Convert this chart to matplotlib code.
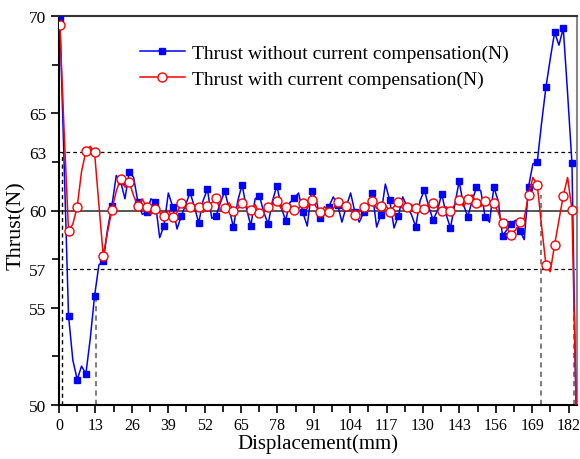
import numpy as np
import matplotlib
matplotlib.use("Agg")
import matplotlib.pyplot as plt
from matplotlib.ticker import FixedLocator

plt.rcParams['font.family'] = ['Liberation Serif', 'DejaVu Serif']

# sampling positions (mm): regular 1.55 mm grid, last point where curves leave the axes
displacement = list(np.round(0.3 + 1.55 * np.arange(119), 2)) + [184.75]

thrust_without = [
    69.9, 62.3, 54.6, 52.3, 51.3, 52.0, 51.6, 53.4, 55.6, 57.2,
    57.4, 59.05, 60.25, 61.8, 61.5, 60.6, 62.0, 61.7, 60.42, 59.8,
    59.91, 60.6, 60.45, 58.6, 59.22, 60.9, 60.2, 59.05, 59.73, 60.3,
    60.93, 60.2, 59.36, 60.5, 61.1, 59.6, 59.73, 60.4, 60.98, 60.1,
    59.13, 60.5, 61.33, 60.1, 59.22, 60.6, 60.75, 59.9, 59.31, 60.5,
    61.28, 60.2, 59.48, 60.4, 60.64, 60.9, 59.9, 59.2, 61.0, 60.6,
    59.6, 59.8, 60.2, 60.7, 60.3, 59.4, 60.2, 60.9, 59.9, 59.4,
    59.9, 60.3, 60.88, 59.15, 59.79, 61.36, 60.54, 59.1, 59.73, 60.7,
    60.2, 59.8, 59.17, 60.5, 61.05, 60.2, 59.51, 60.0, 60.85, 59.8,
    59.1, 60.3, 61.5, 60.3, 59.68, 60.5, 61.19, 61.0, 59.68, 59.4,
    61.19, 60.5, 58.71, 59.0, 59.31, 59.5, 58.96, 58.5, 61.22, 62.4,
    62.48, 64.5, 66.33, 67.8, 69.16, 68.5, 69.37, 66.0, 62.43, 49.0,
]

thrust_with = [
    69.55, 64.0, 58.96, 59.3, 60.2, 62.0, 63.04, 63.3, 62.99, 60.3,
    57.68, 58.9, 60.04, 61.0, 61.62, 61.2, 61.45, 60.76, 60.25, 60.6,
    60.16, 59.8, 60.08, 59.9, 59.7, 60.0, 59.65, 59.9, 60.37, 60.1,
    60.2, 60.3, 60.16, 59.9, 60.25, 60.4, 60.63, 60.0, 60.13, 60.4,
    59.99, 60.1, 60.37, 60.2, 60.04, 60.3, 59.86, 60.0, 60.16, 60.3,
    60.5, 60.1, 60.16, 60.3, 60.03, 60.1, 60.38, 60.1, 60.56, 60.2,
    59.9, 60.2, 59.94, 60.1, 60.45, 60.3, 60.21, 60.1, 59.77, 60.0,
    60.16, 60.3, 60.5, 60.1, 60.25, 60.3, 59.94, 60.2, 60.42, 60.1,
    60.2, 60.3, 60.11, 60.1, 60.08, 60.3, 60.37, 60.2, 59.99, 60.2,
    59.99, 60.3, 60.56, 60.2, 60.59, 60.8, 60.37, 60.2, 60.47, 60.5,
    60.37, 59.9, 59.34, 59.1, 58.76, 59.0, 59.39, 59.6, 60.81, 61.7,
    61.33, 59.2, 57.21, 56.85, 58.24, 59.5, 60.76, 61.7, 60.03, 49.5,
]

label_without = "Thrust without current compensation(N)"
label_with = "Thrust with current compensation(N)"

x_ticks = [0, 13, 26, 39, 52, 65, 78, 91, 104, 117, 130, 143, 156, 169, 182]
y_ticks = [50, 55, 57, 60, 63, 65, 70]
y_minor = [52.5, 57.5, 62.5, 67.5]

ref_level = 60
band_levels = [63, 57]
# guide verticals: (x, top y, colour)
guide_x = [1.2, 13.1, 172.0, 184.1]
guide_top = [63.0, 55.6, 60.8, 55.4]
guide_color = ['black', 'gray', 'gray', 'gray']

fig = plt.figure(figsize=(5.8, 4.6), dpi=100)
ax = fig.add_axes([59/580, 1-406/460, (577-59)/580, (406-17)/460])

ax.axhline(ref_level, color='#555555', lw=1.4, zorder=1)
for lv in band_levels:
    ax.axhline(lv, color='black', lw=0.9, ls=(0, (3, 2.5)), zorder=1)
for gx, gt, gc in zip(guide_x, guide_top, guide_color):
    ax.plot([gx, gx], [50, gt], color=gc, lw=1.0 if gc == 'black' else 1.5,
            ls=(0, (3, 2.5)) if gc == 'black' else (0, (2.5, 2)), zorder=1)

ax.plot(displacement, thrust_without, color='#0000ff', lw=1.1, marker='s',
        markersize=5, markevery=(0, 2), markerfacecolor='#0000ff',
        markeredgecolor='#0000ff', label=label_without, zorder=3)
ax.plot(displacement, thrust_with, color='#ff0000', lw=1.1, marker='o',
        markersize=6.5, markevery=(0, 2), markerfacecolor='white',
        markeredgecolor='#ff0000', markeredgewidth=1.0, label=label_with, zorder=4)

ax.set_xlim(0, 185)
ax.set_ylim(50, 70)
ax.xaxis.set_major_locator(FixedLocator(x_ticks))
ax.xaxis.set_minor_locator(FixedLocator([t + 6.5 for t in x_ticks]))
ax.yaxis.set_major_locator(FixedLocator(y_ticks))
ax.yaxis.set_minor_locator(FixedLocator(y_minor))
ax.set_xticklabels([str(t) for t in x_ticks])
ax.set_yticklabels([str(t) for t in y_ticks])
ax.tick_params(axis='both', which='major', direction='out', length=6, width=1.2, pad=3)
ax.tick_params(axis='x', which='major', labelsize=11.5)
ax.tick_params(axis='y', which='major', labelsize=12.5)
ax.tick_params(axis='both', which='minor', direction='out', length=5, width=1.2)
for i, t in enumerate(y_ticks):
    if t in (57, 63):
        ax.yaxis.get_major_ticks()[i].tick1line.set_visible(False)

for s in ax.spines.values():
    s.set_linewidth(1.5)
ax.spines['top'].set_color('#333333')
ax.spines['right'].set_color('#888888')

ax.set_xlabel("Displacement(mm)", fontsize=15, labelpad=0)
ax.set_ylabel("Thrust(N)", fontsize=16)
ax.yaxis.set_label_coords(-0.064, 0.463)

leg = ax.legend(loc='upper left', bbox_to_anchor=(81/518, 1-28/389), frameon=False,
                fontsize=14, handlelength=2.3, handletextpad=0.35, labelspacing=0.45,
                borderpad=0, borderaxespad=0)

fig.savefig("out.png", dpi=100)
